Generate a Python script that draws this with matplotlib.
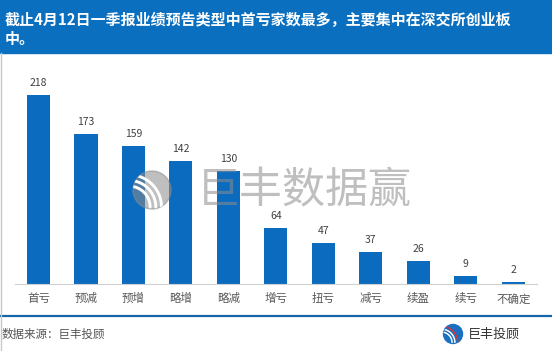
import numpy as np
import matplotlib
matplotlib.use("Agg")
import matplotlib.pyplot as plt
from matplotlib.patches import Rectangle, Circle

plt.rcParams['font.family'] = ['Noto Sans CJK SC', 'DejaVu Sans']

# data
categories = ["首亏", "预减", "预增", "略增", "略减", "增亏", "扭亏", "减亏", "续盈", "续亏", "不确定"]
counts = [218, 173, 159, 142, 130, 64, 47, 37, 26, 9, 2]
title_lines = ["截止4月12日一季报业绩预告类型中首亏家数最多，主要集中在深交所创业板",
               "中。"]
source_text = "数据来源：巨丰投顾"
brand_text = "巨丰投顾"
watermark_text = "巨丰数据赢"

W, H = 552, 351
BLUE = "#0b6cbf"

fig = plt.figure(figsize=(W / 100, H / 100), dpi=100)


def fx(x):
    return x / W


def fy(y):
    return 1 - y / H


def logo(axis, cx, cy, r, base, stroke, accent=None, alpha=1.0):
    # round logo with curved strokes, in pixel coords (y down)
    disc = Circle((cx, cy), r, color=base, alpha=alpha, zorder=6)
    axis.add_patch(disc)
    t = np.linspace(0, np.pi / 2, 60)
    for k, rr in enumerate([1.1, 1.4, 1.7]):
        ox, oy = cx - 1.2 * r, cy + 0.9 * r
        xs = ox + rr * r * np.cos(t)
        ys = oy - rr * r * np.sin(t)
        col = accent if (accent and k == 2) else stroke
        ln, = axis.plot(xs, ys, color=col, lw=max(r / 9, 1.0), zorder=7,
                        solid_capstyle="round")
        ln.set_clip_path(disc)


# header band
fig.patches.append(Rectangle((0, fy(53)), 1, 53 / H, transform=fig.transFigure,
                             color="#0a6fbe", zorder=0))
fig.text(fx(5), fy(20), title_lines[0], color="white", fontsize=10.8,
         fontweight="bold", va="center", ha="left")
fig.text(fx(5), fy(39), title_lines[1], color="white", fontsize=10.8,
         fontweight="bold", va="center", ha="left")

# main bar axes
ax = fig.add_axes([fx(14.8), fy(284), (537 - 14.8) / W, (284 - 60) / H])
x = np.arange(len(categories))
ax.bar(x, counts, width=0.485, color=BLUE, zorder=2)
for xi, v in zip(x, counts):
    ax.annotate(str(v), (xi, v), xytext=(0, 5), textcoords="offset points",
                ha="center", va="bottom", fontsize=7.5, color="#404040")
ax.set_xlim(-0.5, len(categories) - 0.5)
ax.set_ylim(0, 258)
ax.set_yticks([])
ax.set_xticks(x)
ax.set_xticklabels(categories, fontsize=8.3, color="#595959")
ax.tick_params(axis="x", length=0, pad=6)
for s in ["top", "right", "left"]:
    ax.spines[s].set_visible(False)
ax.spines["bottom"].set_color("#d0d0d0")
ax.patch.set_alpha(0)

# overlay in pixel coords
overlay = fig.add_axes([0, 0, 1, 1], zorder=5)
overlay.set_xlim(0, W)
overlay.set_ylim(H, 0)
overlay.axis("off")

# watermark
fig.text(fx(197), fy(191), watermark_text, fontsize=31, color="#8c8c8c",
         alpha=0.55, va="center", ha="left", zorder=6)
logo(overlay, 152, 190, 19, "#8c8c8c", "white", alpha=0.55)

# bottom line and footer
overlay.plot([0, W], [316, 316], color="#1565a8", lw=1.6)
overlay.plot([0.5, 0.5], [53, H], color="#c8c8c8", lw=1)
fig.text(fx(2), fy(334), source_text, fontsize=8.3, color="#555555",
         va="center", ha="left")
fig.text(fx(468), fy(334), brand_text, fontsize=9.4, color="#333333",
         va="center", ha="left")
logo(overlay, 453, 334, 9.5, "#1a6fc0", "white", accent="#e03030")

fig.savefig("out.png", dpi=100)
